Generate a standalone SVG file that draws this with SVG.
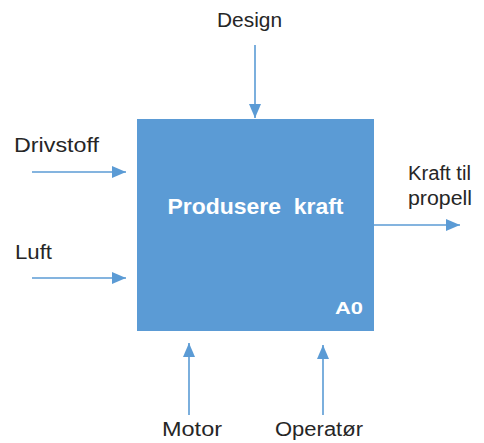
<svg xmlns="http://www.w3.org/2000/svg" width="484" height="443" viewBox="0 0 484 443">
<style>
.lbl{font-family:"Liberation Sans",Arial,sans-serif;font-size:20px;fill:#262626}
.in{font-family:"Liberation Sans",Arial,sans-serif;font-weight:bold;fill:#ffffff}
.arr{stroke:#5B9BD5;stroke-width:1.6;fill:none;marker-end:url(#ah)}
</style>
<defs>
<marker id="ah" markerUnits="userSpaceOnUse" markerWidth="14" markerHeight="12" refX="14" refY="6" orient="auto">
<path d="M0,0 L14,6 L0,12 z" fill="#5B9BD5"/>
</marker>
</defs>
<g id="A0">
<rect x="137" y="119" width="237" height="212" fill="#5B9BD5"/>
<text class="in" x="255.5" y="214" font-size="22" text-anchor="middle" textLength="176" lengthAdjust="spacingAndGlyphs" xml:space="preserve">Produsere  kraft</text>
<text class="in" x="335" y="314" font-size="17" textLength="28" lengthAdjust="spacingAndGlyphs">A0</text>
</g>
<g id="connectors">
<line class="arr" x1="255" y1="45" x2="255" y2="118"/>
<line class="arr" x1="32" y1="172" x2="126" y2="172"/>
<line class="arr" x1="32" y1="278" x2="126" y2="278"/>
<line class="arr" x1="374" y1="225" x2="460" y2="225"/>
<line class="arr" x1="189" y1="415" x2="189" y2="343"/>
<line class="arr" x1="323" y1="415" x2="323" y2="345"/>
</g>
<g id="design"><text class="lbl" x="217" y="27" textLength="65" lengthAdjust="spacingAndGlyphs">Design</text></g>
<g id="drivstoff"><text class="lbl" x="14" y="152" textLength="85" lengthAdjust="spacingAndGlyphs">Drivstoff</text></g>
<g id="luft"><text class="lbl" x="15" y="259" textLength="37" lengthAdjust="spacingAndGlyphs">Luft</text></g>
<g id="kraft-til-propell">
<text class="lbl" x="408" y="180" textLength="63" lengthAdjust="spacingAndGlyphs">Kraft til</text>
<text class="lbl" x="408" y="205" textLength="64" lengthAdjust="spacingAndGlyphs">propell</text>
</g>
<g id="motor"><text class="lbl" x="162" y="436" textLength="60" lengthAdjust="spacingAndGlyphs">Motor</text></g>
<g id="operator"><text class="lbl" x="275" y="436" textLength="88" lengthAdjust="spacingAndGlyphs">Operatør</text></g>
</svg>
